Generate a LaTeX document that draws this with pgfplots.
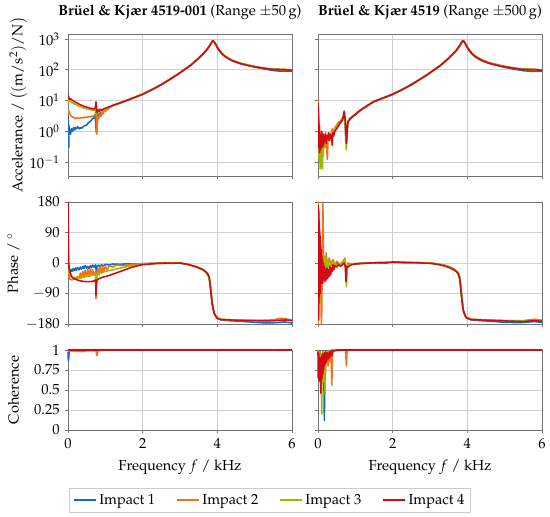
\documentclass[border=0pt,11pt]{standalone}
\usepackage[T1]{fontenc}
\usepackage{mathpazo}
\usepackage{pgfplots}
\pgfplotsset{compat=1.18}
\definecolor{cB}{RGB}{20,105,200}
\definecolor{cO}{RGB}{240,115,25}
\definecolor{cG}{RGB}{160,182,0}
\definecolor{cR}{RGB}{210,10,20}
\pgfplotsset{
  every axis title shift=0pt,
  base/.style={scale only axis, width=172.31pt, anchor=north west,
    xmin=0, xmax=6, xtick={0,2,4,6},
    grid=major, grid style={black!18, line width=0.5pt},
    axis line style={black!55, line width=0.6pt},
    tick align=outside, tick pos=left, major tick length=2.5pt,
    tick style={black!55, line width=0.6pt},
    xminorticks=false, yminorticks=false,
    every axis plot/.append style={line width=1.2pt, line join=round},
    ylabel style={at={(axis description cs:-0.243,0.5)}, anchor=center},
    xlabel style={at={(axis description cs:0.5,-0.4625)}, anchor=center},
    title style={at={(axis description cs:0.5,1.155)}, anchor=center},
  },
  magn/.style={base, height=109.23pt, ymin=0.035, ymax=1455,
    ytick={0.1,1,10,100,1000}, xticklabels={}},
  phas/.style={base, height=93.85pt, ymin=-180, ymax=180,
    ytick={-180,-90,0,90,180}, xticklabels={}},
  cohe/.style={base, height=61.54pt, ymin=0, ymax=1,
    ytick={0,0.25,0.5,0.75,1}, clip=false, xlabel={Frequency $f$ / kHz}},
}
\begin{document}
\fontsize{11.2}{13.5}\selectfont
\begin{tikzpicture}
\useasboundingbox (0,0) rectangle (423.08pt,-397.69pt);
% ---------------- Row 1 left: magnitude
\begin{axis}[ymode=log, magn, at={(52.31pt,-26.15pt)},
  ylabel style={at={(axis description cs:-0.22,0.5)}},
  ylabel={Accelerance / $\bigl((\mathrm{m}/\mathrm{s}^2)/\mathrm{N}\bigr)$},
  title={\textbf{Br\"uel \& Kj\ae r 4519-001} (Range $\pm 50\,$g)}]
\addplot[cB] coordinates {(0,3.2) (0.005,2) (0.01,1.2) (0.015,0.5) (0.02,0.3) (0.025,0.8) (0.03,1.5) (0.04,0.9) (0.05,1.1) (0.07,0.8) (0.09,1.2) (0.12,1.0) (0.15,1.3) (0.18,1.1) (0.2,1.3) (0.23,1.2) (0.26,1.4) (0.3,1.2) (0.33,1.3) (0.36,1.25) (0.4,1.4) (0.45,1.5) (0.5,1.6) (0.55,1.9) (0.6,2.1) (0.65,2.5) (0.7,2.8) (0.72,3.3) (0.74,2) (0.76,0.9) (0.78,2.5) (0.8,3.3) (0.85,3.8) (0.9,4) (0.95,4.3) (1.0,4.7) (1.05,5.2) (1.1,5.8) (1.2,6.8) (1.5,9.2) (2.0,15.8) (2.5,32.5) (3.0,79) (3.3,143) (3.5,236) (3.7,415) (3.8,610) (3.87,850) (3.89,870) (3.94,720) (4.0,525) (4.1,355) (4.2,272) (4.4,195) (4.6,160) (5.0,122) (5.3,104) (5.5,94) (5.7,90) (5.9,91) (6.0,90)};
\addplot[cO] coordinates {(0,3.5) (0.01,5) (0.02,4.5) (0.04,3.8) (0.07,3.3) (0.1,3) (0.15,2.8) (0.2,2.6) (0.25,2.7) (0.3,2.6) (0.35,2.8) (0.4,2.7) (0.45,2.9) (0.5,2.8) (0.55,3) (0.6,2.9) (0.65,3.1) (0.7,3.2) (0.73,3.5) (0.75,8.5) (0.76,2) (0.77,0.8) (0.78,1.5) (0.8,3) (0.82,2.5) (0.85,3.5) (0.88,3) (0.9,4) (0.93,3.6) (0.96,4.3) (1.0,4.5) (1.05,5) (1.1,5.8) (1.2,6.9) (1.5,9.3) (2.0,16) (2.5,33) (3.0,80) (3.3,145) (3.5,240) (3.7,420) (3.8,620) (3.87,860) (3.89,880) (3.94,730) (4.0,530) (4.1,360) (4.2,275) (4.4,198) (4.6,162) (5.0,126) (5.4,107) (5.6,106) (5.8,104) (6.0,96)};
\addplot[cG] coordinates {(0,10) (0.02,9) (0.05,9.5) (0.1,8.5) (0.2,7.5) (0.3,6.5) (0.4,5.8) (0.5,5.3) (0.6,5) (0.7,4.8) (0.74,5) (0.75,7) (0.77,3.5) (0.8,4) (0.85,4.5) (0.9,4.4) (1.0,5) (1.1,5.8) (1.2,6.9) (1.5,9.3) (2.0,16) (2.5,33) (3.0,80) (3.3,145) (3.5,240) (3.7,420) (3.8,620) (3.87,860) (3.89,880) (3.94,735) (4.0,540) (4.1,370) (4.2,285) (4.4,205) (4.6,167) (5.0,128) (5.4,106) (5.8,100) (6.0,95)};
\addplot[cR] coordinates {(0,16) (0.01,12) (0.02,13) (0.04,11) (0.06,11.5) (0.1,10.5) (0.15,9.5) (0.2,8.8) (0.25,8.2) (0.3,7.6) (0.35,7.1) (0.4,6.7) (0.45,6.3) (0.5,6.1) (0.55,5.8) (0.6,5.6) (0.65,5.4) (0.7,5.3) (0.73,5.6) (0.75,9) (0.76,6) (0.78,4) (0.8,5) (0.83,4.5) (0.86,5.2) (0.9,4.8) (0.95,5.3) (1.0,5.6) (1.05,5.9) (1.1,6.2) (1.2,6.9) (1.3,7.6) (1.4,8.4) (1.5,9.3) (1.6,10.3) (1.7,11.5) (1.8,12.8) (1.9,14.3) (2.0,16) (2.1,18.3) (2.2,21) (2.3,24) (2.4,28) (2.5,33) (2.6,39) (2.7,46) (2.8,55) (2.9,66) (3.0,80) (3.1,97) (3.2,118) (3.3,145) (3.4,185) (3.5,240) (3.55,275) (3.6,310) (3.65,360) (3.7,420) (3.75,510) (3.8,620) (3.84,760) (3.87,860) (3.89,880) (3.91,840) (3.94,730) (3.97,620) (4.0,530) (4.05,430) (4.1,360) (4.15,310) (4.2,275) (4.3,228) (4.4,198) (4.5,178) (4.6,162) (4.7,150) (4.8,140) (4.9,132) (5.0,125) (5.1,119) (5.2,114) (5.3,109) (5.4,105) (5.5,102) (5.6,100) (5.7,99) (5.8,100) (5.9,98) (6.0,94)};
\end{axis}
% ---------------- Row 1 right: magnitude
\begin{axis}[ymode=log, magn, at={(244.62pt,-26.15pt)}, yticklabels={},
  title={\textbf{Br\"uel \& Kj\ae r 4519} (Range $\pm 500\,$g)}]
\addplot[cB] coordinates {(0,1) (0.01,0.5) (0.02,0.2) (0.03,0.6) (0.05,0.15) (0.07,0.4) (0.09,0.1) (0.11,0.5) (0.13,0.2) (0.15,0.4) (0.18,0.3) (0.2,0.6) (0.25,0.5) (0.3,0.7) (0.35,0.8) (0.4,0.9) (0.5,1.3) (0.6,1.9) (0.7,3.5) (0.74,1) (0.76,0.4) (0.8,2) (0.9,2.8) (1.0,3.5) (1.1,4.4) (1.2,5.4) (1.5,9.1) (2.0,15.6) (2.5,32) (3.0,78) (3.3,142) (3.5,235) (3.7,410) (3.8,605) (3.87,845) (3.89,865) (3.94,715) (4.0,520) (4.1,350) (4.2,268) (4.4,193) (4.6,158) (5.0,120) (5.3,102) (5.5,93) (5.7,89) (5.9,89) (6.0,88)};
\addplot[cO] coordinates {(0,10) (0.005,4) (0.01,6) (0.015,1) (0.02,3) (0.03,0.5) (0.04,1.5) (0.05,0.2) (0.06,0.7) (0.07,0.1) (0.08,0.5) (0.1,0.3) (0.12,0.8) (0.14,0.2) (0.16,0.6) (0.18,0.3) (0.2,0.9) (0.22,0.5) (0.25,0.12) (0.27,0.6) (0.3,0.8) (0.35,0.5) (0.38,1.2) (0.4,0.9) (0.45,1.3) (0.5,1.6) (0.55,2) (0.6,1.8) (0.65,2.5) (0.7,3.5) (0.73,2.2) (0.76,0.5) (0.78,1.3) (0.8,2.1) (0.9,2.8) (1.0,3.5) (1.1,4.4) (1.2,5.4) (1.5,9.3) (2.0,16) (2.5,33) (3.0,80) (3.3,146) (3.5,242) (3.7,425) (3.8,630) (3.87,865) (3.89,885) (3.94,745) (4.0,550) (4.1,375) (4.2,288) (4.4,207) (4.6,168) (5.0,129) (5.4,108) (5.8,104) (6.0,98)};
\addplot[cG] coordinates {(0,2) (0.005,1) (0.01,0.3) (0.015,0.8) (0.02,0.15) (0.03,0.5) (0.04,0.1) (0.05,0.3) (0.06,0.06) (0.07,0.2) (0.08,0.07) (0.09,0.3) (0.1,0.1) (0.11,0.4) (0.12,0.06) (0.13,0.25) (0.14,0.15) (0.15,0.5) (0.17,0.3) (0.2,0.6) (0.22,0.4) (0.25,0.7) (0.28,0.5) (0.3,0.8) (0.33,0.6) (0.36,1.0) (0.4,0.8) (0.45,1.2) (0.5,1.5) (0.55,1.6) (0.6,2.2) (0.65,2.6) (0.7,4) (0.72,2.5) (0.74,0.6) (0.76,0.25) (0.78,1.2) (0.8,2) (0.85,2.6) (0.9,3) (1.0,3.6) (1.1,4.5) (1.2,5.5) (1.5,9.3) (2.0,16) (2.5,33) (3.0,80) (3.3,145) (3.5,240) (3.7,420) (3.8,620) (3.87,860) (3.89,880) (3.94,735) (4.0,540) (4.1,370) (4.2,283) (4.4,203) (4.6,165) (5.0,127) (5.4,106) (5.8,101) (6.0,96)};
\addplot[cR] coordinates {(0,3) (0.005,8) (0.01,1) (0.015,4) (0.02,0.3) (0.025,2) (0.03,0.6) (0.035,1.5) (0.04,0.2) (0.045,0.9) (0.05,0.3) (0.06,0.8) (0.07,0.25) (0.08,0.6) (0.09,0.4) (0.1,1.0) (0.11,0.3) (0.12,0.7) (0.13,0.45) (0.14,0.8) (0.15,0.35) (0.16,0.6) (0.18,0.5) (0.2,0.8) (0.22,0.4) (0.24,0.7) (0.26,0.55) (0.28,0.9) (0.3,0.5) (0.32,0.8) (0.34,0.6) (0.36,0.75) (0.38,0.35) (0.4,0.9) (0.42,0.7) (0.45,1.0) (0.5,1.2) (0.55,1.5) (0.6,2) (0.65,2.2) (0.68,3) (0.7,4.5) (0.72,3) (0.74,1.5) (0.76,0.4) (0.78,1) (0.8,2) (0.85,2.5) (0.9,2.8) (1.0,3.5) (1.1,4.5) (1.2,5.5) (1.3,6.6) (1.4,7.9) (1.5,9.3) (1.6,10.3) (1.7,11.5) (1.8,12.8) (1.9,14.3) (2.0,16) (2.1,18.3) (2.2,21) (2.3,24) (2.4,28) (2.5,33) (2.6,39) (2.7,46) (2.8,55) (2.9,66) (3.0,80) (3.1,97) (3.2,118) (3.3,145) (3.4,185) (3.5,240) (3.55,275) (3.6,310) (3.65,360) (3.7,420) (3.75,510) (3.8,620) (3.84,760) (3.87,860) (3.89,880) (3.91,840) (3.94,730) (3.97,620) (4.0,530) (4.05,430) (4.1,360) (4.15,310) (4.2,275) (4.3,228) (4.4,198) (4.5,178) (4.6,162) (4.7,150) (4.8,140) (4.9,132) (5.0,125) (5.1,119) (5.2,114) (5.3,109) (5.4,105) (5.5,102) (5.6,100) (5.7,99) (5.8,100) (5.9,98) (6.0,96)};
\end{axis}
% ---------------- Row 2 left: phase
\begin{axis}[phas, at={(52.31pt,-155.38pt)}, ylabel={Phase / $^\circ$}]
\addplot[cB] coordinates {(0,90) (0.005,60) (0.01,0) (0.015,-25) (0.02,-35) (0.03,-30) (0.04,-22) (0.05,-28) (0.07,-20) (0.09,-25) (0.11,-18) (0.13,-24) (0.15,-17) (0.18,-22) (0.2,-15) (0.23,-21) (0.26,-14) (0.3,-20) (0.33,-12) (0.36,-18) (0.4,-10) (0.43,-16) (0.46,-8) (0.5,-15) (0.53,-10) (0.56,-17) (0.6,-8) (0.63,-14) (0.66,-6) (0.7,-12) (0.74,-5) (0.76,-30) (0.78,-10) (0.82,-6) (0.86,-12) (0.9,-5) (0.95,-9) (1.0,-4) (1.1,-6) (1.2,-3) (1.4,-4) (1.6,-2) (1.8,-3) (2.0,-2) (2.4,-1) (3.0,0) (3.2,-4) (3.4,-10) (3.6,-19) (3.7,-27) (3.78,-42) (3.82,-75) (3.86,-118) (3.92,-150) (4.0,-163) (4.1,-168) (4.3,-170) (4.6,-172) (5.0,-175) (5.3,-177) (5.6,-176) (5.8,-174) (6.0,-177)};
\addplot[cO] coordinates {(0,160) (0.005,80) (0.01,10) (0.02,-30) (0.04,-45) (0.06,-48) (0.1,-50) (0.15,-48) (0.2,-45) (0.25,-40) (0.3,-45) (0.33,-30) (0.36,-44) (0.4,-25) (0.43,-42) (0.46,-22) (0.5,-40) (0.53,-20) (0.56,-38) (0.6,-18) (0.63,-36) (0.66,-20) (0.7,-35) (0.74,-25) (0.75,-105) (0.77,-40) (0.8,-15) (0.83,-35) (0.86,-12) (0.9,-30) (0.93,-10) (0.96,-25) (1.0,-10) (1.05,-20) (1.1,-8) (1.2,-12) (1.3,-6) (1.5,-8) (1.7,-4) (2.0,-2) (2.4,-1) (3.0,0) (3.2,-4) (3.4,-10) (3.6,-19) (3.7,-27) (3.78,-42) (3.82,-75) (3.86,-118) (3.92,-150) (4.0,-163) (4.1,-167) (4.5,-169) (5.0,-170) (5.5,-168) (5.7,-163) (5.85,-165) (6.0,-169)};
\addplot[cG] coordinates {(0,150) (0.01,20) (0.02,-20) (0.05,-35) (0.1,-42) (0.2,-45) (0.3,-45) (0.4,-42) (0.5,-40) (0.6,-38) (0.7,-35) (0.74,-30) (0.75,-80) (0.77,-40) (0.8,-30) (0.9,-28) (1.0,-25) (1.2,-20) (1.4,-15) (1.6,-10) (1.8,-6) (2.0,-3) (2.4,-1) (3.0,0) (3.2,-4) (3.4,-10) (3.6,-19) (3.7,-27) (3.78,-42) (3.82,-75) (3.86,-118) (3.92,-150) (4.0,-163) (4.1,-166) (4.5,-168) (5.0,-169) (5.5,-170) (5.8,-167) (6.0,-169)};
\addplot[cR] coordinates {(0,180) (0.005,120) (0.01,40) (0.015,10) (0.02,-5) (0.03,-15) (0.05,-25) (0.08,-35) (0.1,-40) (0.15,-45) (0.2,-48) (0.3,-52) (0.4,-54) (0.5,-55) (0.6,-55) (0.7,-53) (0.74,-50) (0.75,-95) (0.76,-60) (0.78,-50) (0.8,-48) (0.85,-45) (0.9,-43) (1.0,-40) (1.1,-37) (1.2,-33) (1.3,-29) (1.4,-25) (1.5,-21) (1.6,-17) (1.7,-13) (1.8,-10) (1.9,-7) (2.0,-5) (2.2,-3) (2.4,-1) (2.6,0) (2.8,-1) (3.0,0) (3.1,-2) (3.2,-4) (3.3,-7) (3.4,-10) (3.5,-14) (3.6,-19) (3.65,-22) (3.7,-27) (3.75,-33) (3.78,-42) (3.8,-55) (3.82,-75) (3.84,-98) (3.86,-118) (3.89,-138) (3.92,-150) (3.96,-158) (4.0,-163) (4.1,-167) (4.3,-168) (4.5,-169) (4.8,-170) (5.0,-170) (5.3,-171) (5.5,-170) (5.7,-169) (5.85,-168) (6.0,-170)};
\end{axis}
% ---------------- Row 2 right: phase
\begin{axis}[phas, at={(244.62pt,-155.38pt)}, yticklabels={}]
\addplot[cB] coordinates {(0,-180) (0.005,180) (0.01,-100) (0.02,120) (0.03,-60) (0.04,40) (0.05,-40) (0.06,20) (0.08,-30) (0.1,10) (0.12,-20) (0.15,-5) (0.18,-15) (0.2,0) (0.25,-10) (0.3,-3) (0.4,-8) (0.5,-3) (0.7,0) (0.75,-15) (0.8,-3) (1.0,-2) (1.4,0) (2.0,2) (2.6,1) (3.0,0) (3.2,-3) (3.4,-7) (3.6,-15) (3.75,-28) (3.8,-45) (3.84,-90) (3.89,-140) (3.96,-160) (4.1,-168) (4.5,-171) (5.0,-175) (5.4,-176) (5.8,-173) (6.0,-175)};
\addplot[cO] coordinates {(0,100) (0.005,-100) (0.01,170) (0.02,-170) (0.03,130) (0.04,-90) (0.05,90) (0.06,-70) (0.07,50) (0.08,-100) (0.09,-180) (0.1,-150) (0.11,-40) (0.12,60) (0.13,180) (0.14,100) (0.15,-20) (0.17,20) (0.2,-15) (0.22,30) (0.25,-10) (0.3,15) (0.35,-5) (0.4,10) (0.45,-5) (0.5,5) (0.6,-5) (0.7,10) (0.73,-10) (0.76,-20) (0.8,0) (0.9,-3) (1.0,-2) (1.4,0) (2.0,3) (2.6,1) (3.0,0) (3.2,-3) (3.4,-7) (3.6,-15) (3.75,-28) (3.8,-45) (3.84,-90) (3.89,-140) (3.96,-160) (4.1,-166) (4.5,-168) (5.0,-170) (5.5,-170) (5.8,-166) (6.0,-169)};
\addplot[cG] coordinates {(0,180) (0.005,-180) (0.01,150) (0.015,-160) (0.02,100) (0.03,-140) (0.04,60) (0.05,-120) (0.06,40) (0.07,-90) (0.08,30) (0.09,-60) (0.1,20) (0.12,-40) (0.14,10) (0.16,-30) (0.18,20) (0.2,-25) (0.22,15) (0.25,-20) (0.28,10) (0.3,-15) (0.35,5) (0.4,-10) (0.45,0) (0.5,-8) (0.6,-3) (0.7,5) (0.72,15) (0.74,-10) (0.76,-70) (0.78,-20) (0.8,-5) (0.9,-3) (1.0,-2) (1.4,0) (2.0,3) (2.6,1) (3.0,0) (3.2,-3) (3.4,-7) (3.6,-15) (3.75,-28) (3.8,-45) (3.84,-90) (3.89,-140) (3.96,-160) (4.1,-166) (4.5,-168) (5.0,-170) (5.5,-171) (5.8,-169) (6.0,-170)};
\addplot[cR] coordinates {(0,-170) (0.005,170) (0.01,-150) (0.015,160) (0.02,-120) (0.025,150) (0.03,-100) (0.035,120) (0.04,-80) (0.045,100) (0.05,-60) (0.055,80) (0.06,-90) (0.065,60) (0.07,-50) (0.08,40) (0.09,-60) (0.1,20) (0.11,-50) (0.12,10) (0.13,-60) (0.14,0) (0.15,-45) (0.16,-10) (0.17,-50) (0.18,-15) (0.19,-55) (0.2,-20) (0.22,-50) (0.24,-15) (0.26,-45) (0.28,-20) (0.3,-40) (0.32,-10) (0.34,-35) (0.36,-15) (0.38,-25) (0.4,-5) (0.42,-20) (0.45,-8) (0.5,-12) (0.55,-5) (0.6,-10) (0.65,-5) (0.7,0) (0.73,-10) (0.75,-55) (0.76,-20) (0.78,-10) (0.8,-12) (0.85,-8) (0.9,-5) (1.0,-3) (1.2,-1) (1.4,0) (1.6,1) (1.8,0) (2.0,3) (2.2,2) (2.4,1) (2.6,1) (2.8,0) (3.0,-1) (3.2,-4) (3.4,-9) (3.5,-13) (3.6,-18) (3.7,-25) (3.75,-31) (3.78,-40) (3.8,-50) (3.82,-70) (3.84,-93) (3.86,-115) (3.89,-138) (3.92,-150) (3.96,-159) (4.0,-163) (4.1,-167) (4.5,-169) (5.0,-171) (5.5,-173) (5.8,-170) (6.0,-172)};
\end{axis}
% ---------------- Row 3 left: coherence
\begin{axis}[cohe, at={(52.31pt,-269.23pt)}, ylabel={Coherence},
  legend style={at={(0.9018,-0.725)}, anchor=north, legend columns=4,
    draw=black!20, inner sep=2.5pt,
    /tikz/every even column/.append style={column sep=14pt}},
  legend cell align=left]
\addplot[cB] coordinates {(0,0.98) (0.01,0.87) (0.02,0.9) (0.03,0.97) (0.05,0.99) (0.1,1) (6,1)};
\addlegendentry{Impact 1}
\addplot[cO] coordinates {(0,1) (0.1,0.99) (0.2,0.985) (0.4,0.98) (0.5,0.99) (0.75,0.99) (0.77,0.93) (0.79,0.96) (0.8,0.99) (1,1) (5.5,1) (5.7,0.995) (5.9,0.995) (6,1)};
\addlegendentry{Impact 2}
\addplot[cG] coordinates {(0,0.99) (0.05,0.98) (0.2,0.99) (0.4,1) (6,1)};
\addlegendentry{Impact 3}
\addplot[cR] coordinates {(0,1) (6,1)};
\addlegendentry{Impact 4}
\end{axis}
% ---------------- Row 3 right: coherence
\begin{axis}[cohe, at={(244.62pt,-269.23pt)}, yticklabels={}]
\addplot[cB] coordinates {(0,1) (0.05,0.95) (0.1,0.9) (0.15,0.97) (0.17,0.12) (0.18,0.6) (0.2,0.98) (0.25,0.95) (0.3,0.99) (0.4,1) (6,1)};
\addplot[cO] coordinates {(0,1) (0.03,0.92) (0.06,0.98) (0.1,0.85) (0.14,0.97) (0.2,0.7) (0.22,0.95) (0.25,0.9) (0.27,0.8) (0.29,0.97) (0.33,0.85) (0.35,0.98) (0.37,0.56) (0.39,0.97) (0.42,0.99) (0.74,1) (0.76,0.8) (0.78,1) (6,1)};
\addplot[cG] coordinates {(0,1) (0.02,0.9) (0.04,0.98) (0.06,0.7) (0.08,0.95) (0.1,0.2) (0.11,0.8) (0.13,0.98) (0.15,0.6) (0.17,0.9) (0.19,0.45) (0.2,0.95) (0.22,0.85) (0.24,0.98) (0.26,0.88) (0.3,0.99) (0.35,0.97) (0.4,1) (6,1)};
\addplot[cR] coordinates {(0,0.98) (0.005,0.65) (0.01,0.9) (0.015,0.7) (0.02,0.95) (0.025,0.62) (0.03,0.85) (0.035,0.68) (0.04,0.9) (0.045,0.63) (0.05,0.8) (0.055,0.6) (0.06,0.85) (0.065,0.64) (0.07,0.9) (0.075,0.46) (0.08,0.8) (0.085,0.62) (0.09,0.92) (0.095,0.7) (0.1,0.88) (0.11,0.65) (0.12,0.95) (0.13,0.7) (0.14,0.9) (0.15,0.75) (0.16,0.95) (0.17,0.8) (0.18,0.97) (0.19,0.82) (0.2,0.95) (0.22,0.85) (0.24,0.97) (0.26,0.88) (0.28,0.96) (0.3,0.9) (0.32,0.98) (0.34,0.92) (0.36,0.99) (0.38,0.94) (0.4,0.99) (0.45,0.99) (0.5,1) (6,1)};
\end{axis}
\end{tikzpicture}
\end{document}
